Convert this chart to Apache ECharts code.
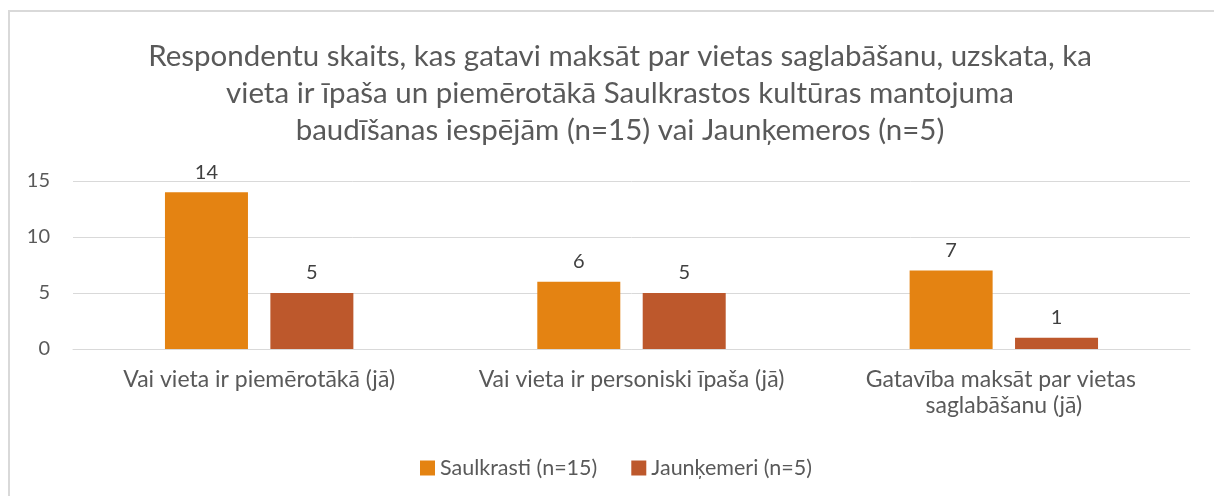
<!DOCTYPE html>
<html lang="lv">
<head>
    <meta charset="UTF-8">
    <title>Respondentu skaits</title>
    <script src="https://cdn.jsdelivr.net/npm/echarts@6/dist/echarts.min.js"></script>
    <style>
        body {
            margin: 0;
            padding: 0;
            overflow: hidden;
            background: #fff;
        }
        #chart {
            width: 1214px;
            height: 496px;
        }
    </style>
</head>
<body>
<div id="chart"></div>
<script>
    // dati
    const categories = [
        'Vai vieta ir piemērotākā (jā)',
        'Vai vieta ir personiski īpaša (jā)',
        'Gatavība maksāt par vietas saglabāšanu (jā)'
    ]
    const saulkrasti = [14, 6, 7]
    const jaunkemeri = [5, 5, 1]
    const seriesNames = ['Saulkrasti (n=15)', 'Jaunķemeri (n=5)']
    const yTicks = [0, 5, 10, 15]
    const titleText = 'Respondentu skaits, kas gatavi maksāt par vietas saglabāšanu, uzskata, ka\n' +
        'vieta ir īpaša un piemērotākā Saulkrastos kultūras mantojuma\n' +
        'baudīšanas iespējām (n=15) vai Jaunķemeros (n=5)'

    const font = 'Lato, "Open Sans", sans-serif'
    const txt = '#595959'

    const chart = echarts.init(document.getElementById('chart'))

    const barLabel = {
        show: true,
        position: 'top',
        distance: 10,
        color: '#404040',
        fontFamily: font,
        fontSize: 20
    }

    chart.setOption({
        animation: false,
        textStyle: { fontFamily: font },
        graphic: [{
            type: 'rect',
            shape: { x: 9, y: 11, width: 1230, height: 520 },
            style: { fill: 'none', stroke: '#d9d9d9', lineWidth: 2 },
            silent: true
        }],
        title: {
            text: titleText,
            left: 615,
            textAlign: 'center',
            top: 33,
            textStyle: {
                fontFamily: font,
                fontWeight: 'normal',
                fontSize: 29.5,
                lineHeight: 37,
                color: txt
            }
        },
        legend: {
            top: 452,
            left: 415,
            itemWidth: 15,
            itemHeight: 15,
            itemGap: 34,
            icon: 'rect',
            textStyle: { fontFamily: font, fontSize: 21.5, color: txt }
        },
        grid: {
            left: 73,
            right: 24,
            top: 181,
            bottom: 147,
            containLabel: false
        },
        xAxis: {
            type: 'category',
            data: categories,
            axisLine: { lineStyle: { color: '#d9d9d9', width: 1 } },
            axisTick: { show: false },
            axisLabel: {
                interval: 0,
                color: txt,
                fontFamily: font,
                fontSize: 23,
                margin: 18,
                width: 370,
                overflow: 'break',
                lineHeight: 26
            }
        },
        yAxis: {
            type: 'value',
            min: yTicks[0],
            max: yTicks[yTicks.length - 1],
            interval: 5,
            axisLine: { show: false },
            axisTick: { show: false },
            splitLine: { lineStyle: { color: '#d9d9d9', width: 1 } },
            axisLabel: {
                color: txt,
                fontFamily: font,
                fontSize: 20,
                margin: 23
            }
        },
        series: [{
            name: seriesNames[0],
            type: 'bar',
            data: saulkrasti,
            barWidth: 83,
            barGap: '27%',
            itemStyle: { color: '#E48312' },
            label: barLabel
        }, {
            name: seriesNames[1],
            type: 'bar',
            data: jaunkemeri,
            barWidth: 83,
            itemStyle: { color: '#BD582C' },
            label: barLabel
        }]
    })

    window.onresize = function () {
        chart.resize()
    }
</script>
</body>
</html>
